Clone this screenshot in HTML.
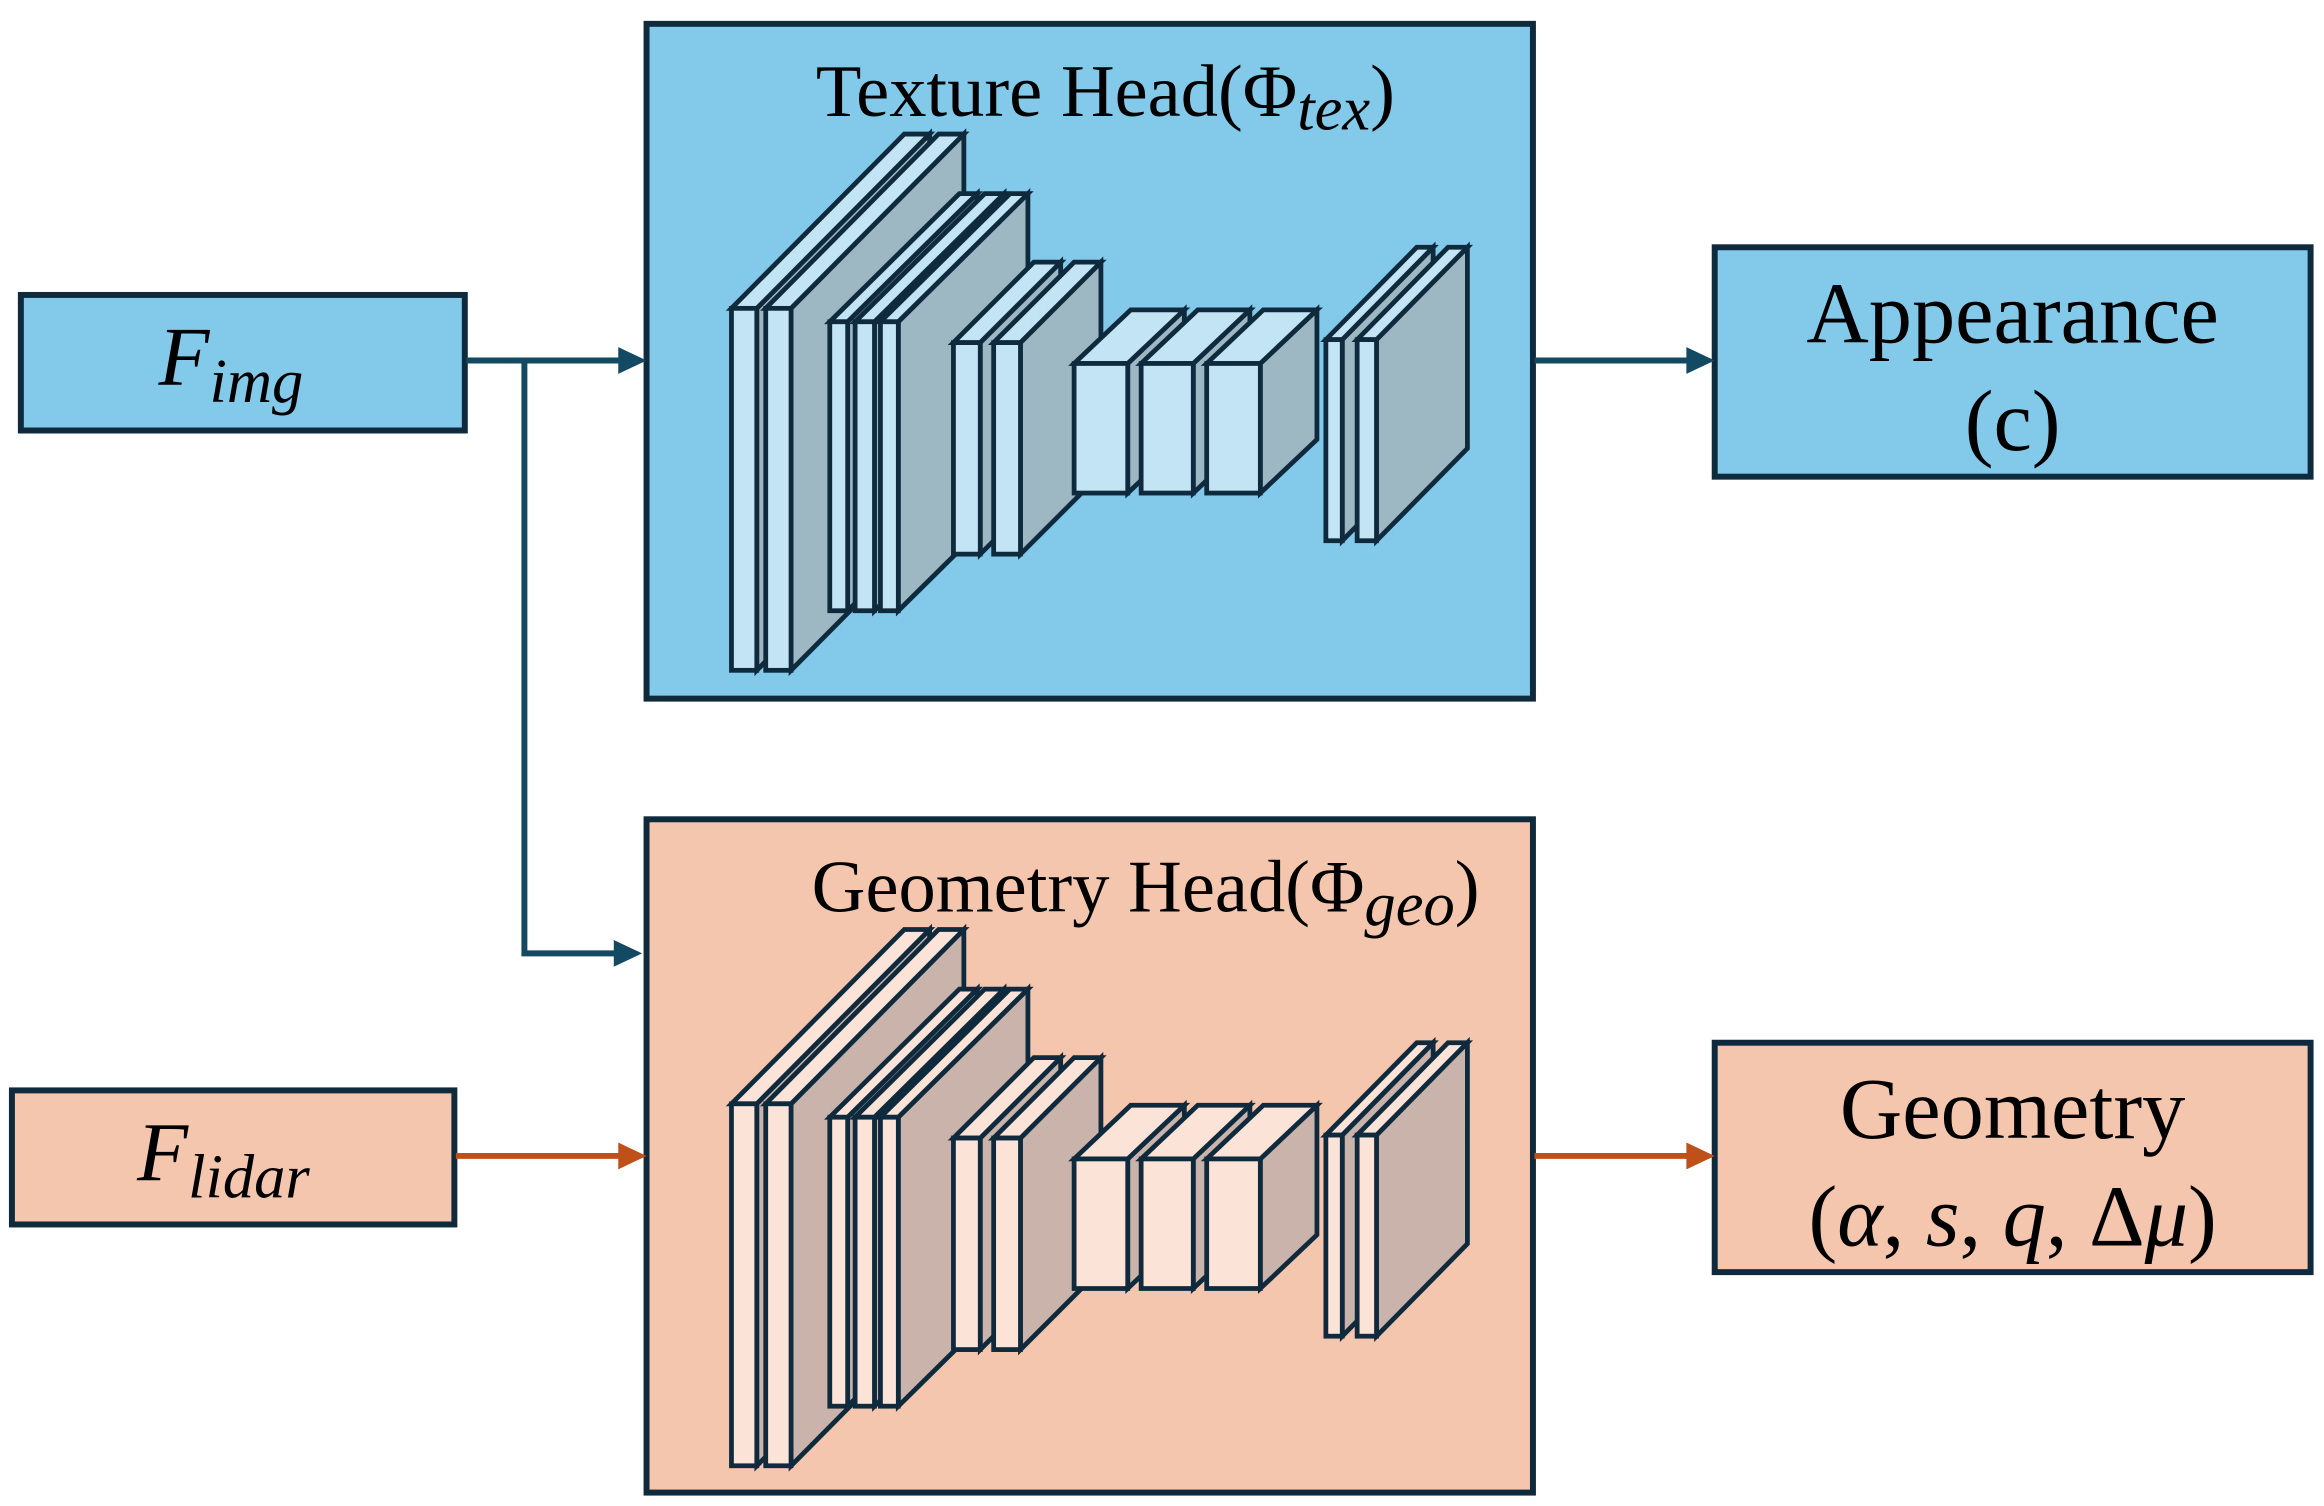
<!DOCTYPE html>
<html><head><meta charset="utf-8"><style>
html,body{margin:0;padding:0;background:#fff;}
svg{display:block;}
text{font-family:"Liberation Serif",serif;fill:#000;}
.m{font-style:italic;}
</style></head><body>
<svg id="s" width="2324" height="1506" viewBox="0 0 1560 1011" preserveAspectRatio="none" xmlns="http://www.w3.org/2000/svg">
<rect width="1560" height="1011" fill="#fff"/>
<rect x="14" y="198" width="298" height="91" fill="#83C9EA" stroke="#0E2A3C" stroke-width="4"/>
<text x="155" y="258" font-size="56" text-anchor="middle" class="m">F<tspan font-size="42" dy="12">img</tspan></text>
<rect x="8" y="732" width="297" height="90" fill="#F5C6AE" stroke="#0E2A3C" stroke-width="4"/>
<text x="150" y="792" font-size="56" text-anchor="middle" class="m">F<tspan font-size="42" dy="12">lidar</tspan></text>
<rect x="434" y="16" width="595" height="453" fill="#83C9EA" stroke="#0E2A3C" stroke-width="4"/>
<rect x="434" y="550" width="595" height="452" fill="#F5C6AE" stroke="#0E2A3C" stroke-width="4"/>
<text x="742" y="78" font-size="50" text-anchor="middle">Texture Head(Φ<tspan class="m" font-size="42" dy="9">tex</tspan><tspan dy="-9">)</tspan></text>
<text x="769" y="612" font-size="50" text-anchor="middle">Geometry Head(Φ<tspan class="m" font-size="42" dy="9">geo</tspan><tspan dy="-9">)</tspan></text>
<g id="net1"></g><g id="net2"></g>
<rect x="1151" y="166" width="400" height="154" fill="#83C9EA" stroke="#0E2A3C" stroke-width="4"/>
<text x="1351" y="230" font-size="58" text-anchor="middle">Appearance</text>
<text x="1351" y="302" font-size="58" text-anchor="middle">(c)</text>
<rect x="1151" y="700" width="400" height="154" fill="#F5C6AE" stroke="#0E2A3C" stroke-width="4"/>
<text x="1351" y="764" font-size="58" text-anchor="middle">Geometry</text>
<text x="1351" y="836" font-size="58" text-anchor="middle">(<tspan class="m">α</tspan>, <tspan class="m">s</tspan>, <tspan class="m">q</tspan>, Δ<tspan class="m">μ</tspan>)</text>
<g fill="none" stroke="#124A63" stroke-width="4">
<path d="M313 242 H418"/>
<path d="M352 242 V640 H416"/>
<path d="M1030 242 H1135"/>
</g>
<g fill="#124A63">
<path d="M415 233 L434 242 L415 251Z"/>
<path d="M412 631 L431 640 L412 649Z"/>
<path d="M1132 233 L1151 242 L1132 251Z"/>
</g>
<g fill="none" stroke="#C0501A" stroke-width="4">
<path d="M306 776 H418"/>
<path d="M1030 776 H1135"/>
</g>
<g fill="#C0501A">
<path d="M415 767 L434 776 L415 785Z"/>
<path d="M1132 767 L1151 776 L1132 785Z"/>
</g>
</svg>
<script>
var blocks=[
 {xs:[[491,508],[514,531]],y0:207,y1:450,dx:116,dy:-117},
 {xs:[[557,569],[574,587],[591,603]],y0:216,y1:410,dx:87,dy:-86},
 {xs:[[640,658],[667,685]],y0:230,y1:372,dx:54,dy:-54},
 {xs:[[721,757]],y0:244,y1:331,dx:38,dy:-36},
 {xs:[[766,801]],y0:244,y1:331,dx:38,dy:-36},
 {xs:[[810,846]],y0:244,y1:331,dx:38,dy:-36},
 {xs:[[890,901],[911,924]],y0:228,y1:363,dx:61,dy:-62}
];
function build(id,off,front,side){
 var g=document.getElementById(id),h='';
 blocks.forEach(function(b){
  b.xs.forEach(function(x){
   var a=x[0],c=x[1],t=b.y0+off,u=b.y1+off,dx=b.dx,dy=b.dy;
   var st=' stroke="#0E2A3C" stroke-width="3.2" stroke-linejoin="miter"';
   h+='<polygon points="'+c+','+t+' '+(c+dx)+','+(t+dy)+' '+(c+dx)+','+(u+dy)+' '+c+','+u+'" fill="'+side+'"'+st+'/>';
   h+='<polygon points="'+a+','+t+' '+(a+dx)+','+(t+dy)+' '+(c+dx)+','+(t+dy)+' '+c+','+t+'" fill="'+front+'"'+st+'/>';
   h+='<rect x="'+a+'" y="'+t+'" width="'+(c-a)+'" height="'+(u-t)+'" fill="'+front+'"'+st+'/>';
  });
 });
 g.innerHTML=h;
}
build('net1',0,'#C3E4F4','#9DB8C3');
build('net2',534,'#FBE3D8','#C9B3AA');
</script>
</body></html>
